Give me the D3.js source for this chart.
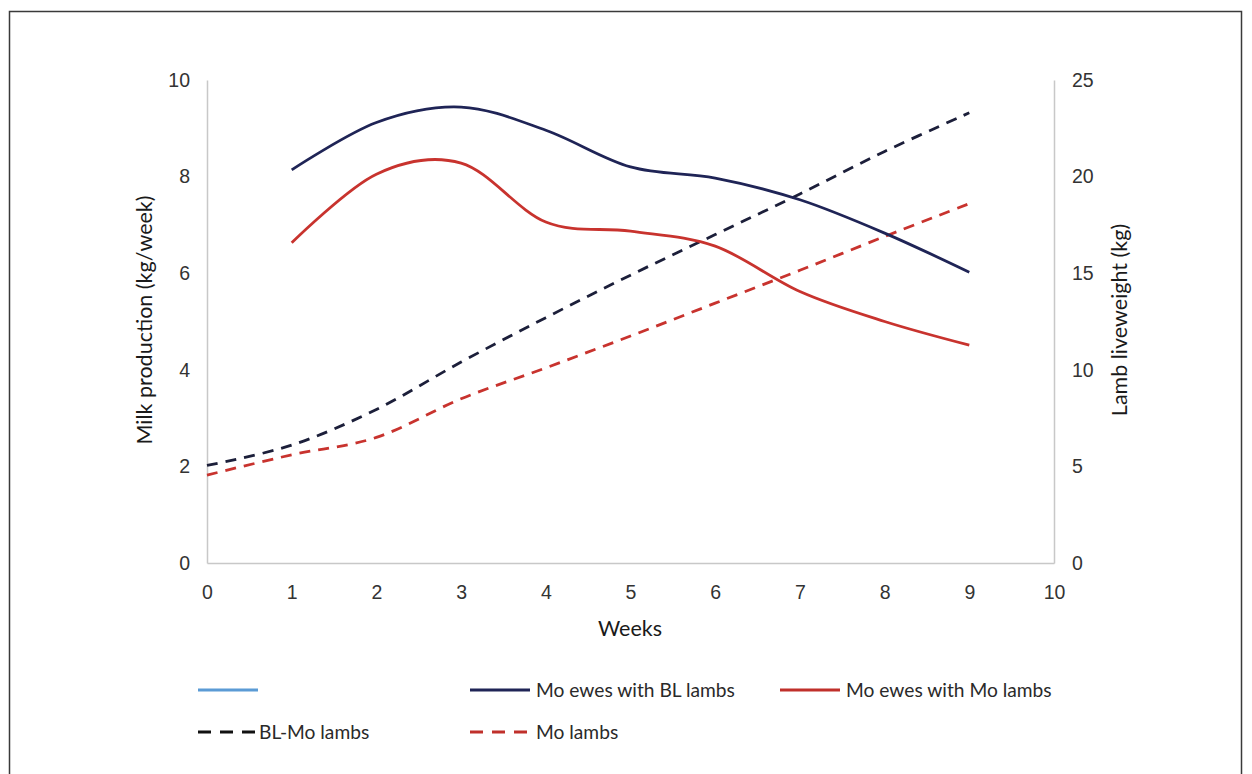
<!DOCTYPE html>
<html>
<head>
<meta charset="utf-8">
<script src="https://cdn.jsdelivr.net/npm/d3@7"></script>
<style>
  html, body { margin: 0; padding: 0; background: #ffffff; }
  svg { display: block; font-family: Lato, "Open Sans", sans-serif; }
  .axis text { fill: #333333; font-size: 19.5px; }
  .axis path { stroke: #c8c8c8; stroke-width: 1.5; }
</style>
</head>
<body>
<svg id="chart" width="1252" height="774"></svg>
<script>
// Weeks on the horizontal axis
const weekTicks = [0, 1, 2, 3, 4, 5, 6, 7, 8, 9, 10];
const milkTicks = [0, 2, 4, 6, 8, 10];
const weightTicks = [0, 5, 10, 15, 20, 25];

// Milk production of the ewes (kg/week), weeks 1–9
const ewesWeeks = [1, 2, 3, 4, 5, 6, 7, 8, 9];
const ewesWithBL = [8.14, 9.12, 9.44, 8.96, 8.2, 7.97, 7.52, 6.83, 6.02];
const ewesWithMo = [6.63, 8.05, 8.28, 7.06, 6.87, 6.56, 5.62, 5.0, 4.51];

// Lamb liveweight (kg), weeks 0–9
const lambWeeks = [0, 1, 2, 3, 4, 5, 6, 7, 8, 9];
const lambsBLMo = [5.05, 6.1, 7.95, 10.4, 12.7, 14.9, 17.0, 19.1, 21.3, 23.3];
const lambsMo = [4.55, 5.6, 6.5, 8.5, 10.1, 11.75, 13.45, 15.15, 16.9, 18.6];

// Legend rows
const legendRow1 = [
  { label: "", color: "#5b9bd5", dash: null, x: 198 },
  { label: "Mo ewes with BL lambs", color: "#1f2456", dash: null, x: 470 },
  { label: "Mo ewes with Mo lambs", color: "#c0302b", dash: null, x: 780 }
];
const legendRow2 = [
  { label: "BL-Mo lambs", color: "#111111", dash: "13,9", x: 198 },
  { label: "Mo lambs", color: "#c0302b", dash: "13,9", x: 470 }
];

const svg = d3.select("#chart");

// outer frame
svg.append("rect")
  .attr("x", 9.5).attr("y", 11.5)
  .attr("width", 1232).attr("height", 800)
  .attr("fill", "none").attr("stroke", "#3a3a3a").attr("stroke-width", 1.5);

const x = d3.scaleLinear().domain([0, 10]).range([207, 1054]);
const yMilk = d3.scaleLinear().domain([0, 10]).range([563, 80]);
const yWeight = d3.scaleLinear().domain([0, 25]).range([563, 80]);

svg.append("g").attr("class", "axis")
  .attr("transform", "translate(207,0)")
  .call(d3.axisLeft(yMilk).tickValues(milkTicks).tickSize(0).tickPadding(17));

svg.append("g").attr("class", "axis")
  .attr("transform", "translate(1054,0)")
  .call(d3.axisRight(yWeight).tickValues(weightTicks).tickSize(0).tickPadding(18));

svg.append("g").attr("class", "axis")
  .attr("transform", "translate(0,563)")
  .call(d3.axisBottom(x).tickValues(weekTicks).tickSize(0).tickPadding(22));

// axis titles
svg.append("text")
  .attr("transform", "translate(152,320) rotate(-90)")
  .attr("text-anchor", "middle")
  .attr("font-size", 21.5).attr("fill", "#1a1a1a")
  .text("Milk production (kg/week)");

svg.append("text")
  .attr("transform", "translate(1127,320) rotate(-90)")
  .attr("text-anchor", "middle")
  .attr("font-size", 21.5).attr("fill", "#1a1a1a")
  .text("Lamb liveweight (kg)");

svg.append("text")
  .attr("x", 630).attr("y", 636)
  .attr("text-anchor", "middle")
  .attr("font-size", 21.5).attr("fill", "#1a1a1a")
  .text("Weeks");

// series
const curve = d3.curveCardinal.tension(0);
const milkLine = d3.line().x(d => x(d[0])).y(d => yMilk(d[1])).curve(curve);
const weightLine = d3.line().x(d => x(d[0])).y(d => yWeight(d[1])).curve(curve);

const series = [
  { pts: d3.zip(lambWeeks, lambsBLMo), gen: weightLine, color: "#1c1f3a", dash: "11,8" },
  { pts: d3.zip(lambWeeks, lambsMo), gen: weightLine, color: "#c8332e", dash: "11,8" },
  { pts: d3.zip(ewesWeeks, ewesWithBL), gen: milkLine, color: "#1f2456", dash: null },
  { pts: d3.zip(ewesWeeks, ewesWithMo), gen: milkLine, color: "#c8332e", dash: null }
];

svg.append("g").selectAll("path")
  .data(series)
  .join("path")
  .attr("d", d => d.gen(d.pts))
  .attr("fill", "none")
  .attr("stroke", d => d.color)
  .attr("stroke-width", 2.8)
  .attr("stroke-dasharray", d => d.dash);

// legend
function drawLegendRow(items, y) {
  const g = svg.append("g");
  const entry = g.selectAll("g").data(items).join("g")
    .attr("transform", d => `translate(${d.x},${y})`);
  entry.append("line")
    .attr("x1", 0).attr("x2", d => d.dash ? 57 : 60)
    .attr("y1", 0).attr("y2", 0)
    .attr("stroke", d => d.color)
    .attr("stroke-width", 2.8)
    .attr("stroke-dasharray", d => d.dash);
  entry.append("text")
    .attr("x", d => d.dash ? (d.x < 300 ? 61 : 66) : 66)
    .attr("y", 0).attr("dy", "0.35em")
    .attr("font-size", 19.2).attr("fill", "#2a2a2a")
    .text(d => d.label);
}
drawLegendRow(legendRow1, 690);
drawLegendRow(legendRow2, 732);
</script>
</body>
</html>
